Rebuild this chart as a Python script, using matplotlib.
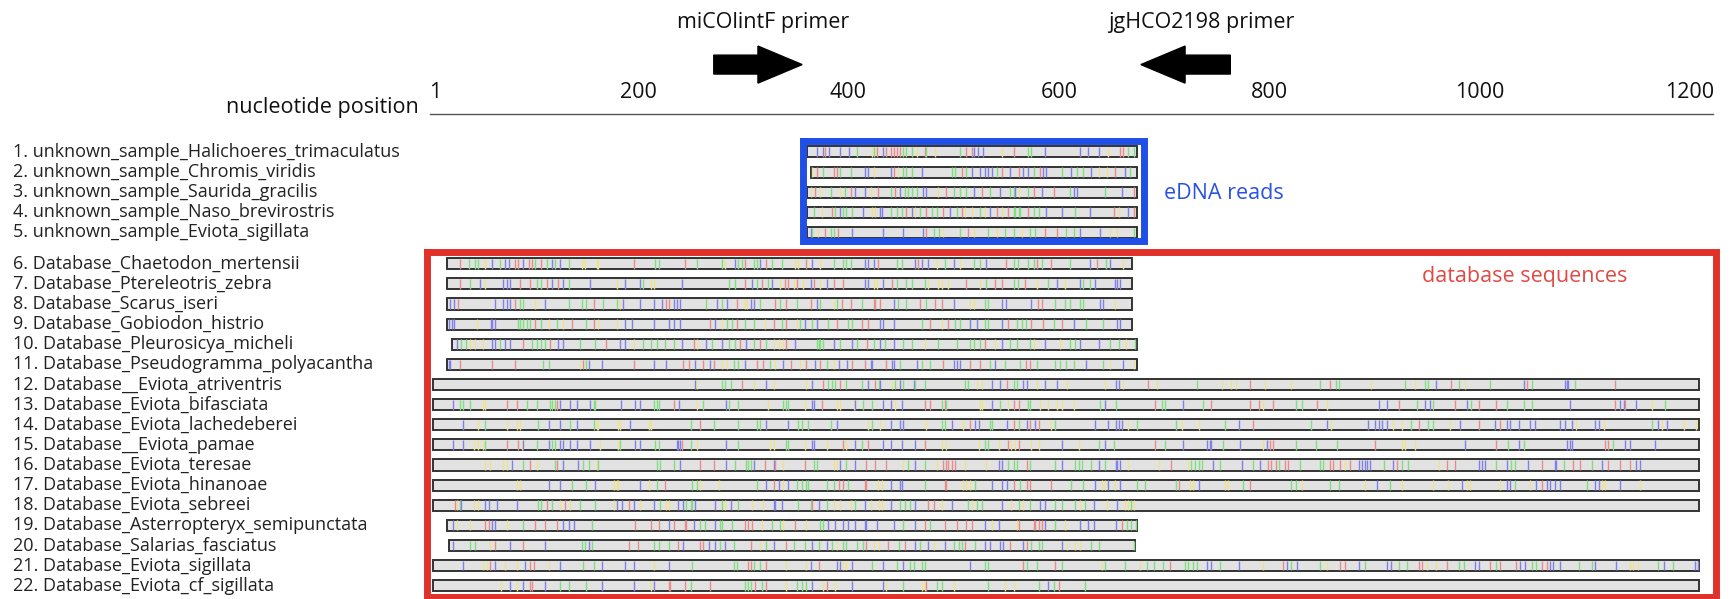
import matplotlib.pyplot as plt

plt.rcParams['font.family'] = ['Open Sans', 'DejaVu Sans']

# row labels
labels = [
    "1. unknown_sample_Halichoeres_trimaculatus",
    "2. unknown_sample_Chromis_viridis",
    "3. unknown_sample_Saurida_gracilis",
    "4. unknown_sample_Naso_brevirostris",
    "5. unknown_sample_Eviota_sigillata",
    "6. Database_Chaetodon_mertensii",
    "7. Database_Ptereleotris_zebra",
    "8. Database_Scarus_iseri",
    "9. Database_Gobiodon_histrio",
    "10. Database_Pleurosicya_micheli",
    "11. Database_Pseudogramma_polyacantha",
    "12. Database__Eviota_atriventris",
    "13. Database_Eviota_bifasciata",
    "14. Database_Eviota_lachedeberei",
    "15. Database__Eviota_pamae",
    "16. Database_Eviota_teresae",
    "17. Database_Eviota_hinanoae",
    "18. Database_Eviota_sebreei",
    "19. Database_Asterropteryx_semipunctata",
    "20. Database_Salarias_fasciatus",
    "21. Database_Eviota_sigillata",
    "22. Database_Eviota_cf_sigillata",
]

# start / end nucleotide of each sequence
seq_start = [361, 364, 361, 361, 361, 18, 18, 18, 18, 23, 18,
             5, 5, 5, 5, 5, 5, 5, 18, 20, 5, 5]
seq_end = [674, 674, 674, 674, 674, 670, 670, 670, 670, 674, 674,
           1209, 1209, 1209, 1209, 1209, 1209, 1209, 674, 672, 1209, 1209]

# variable sites: position + base (r=T, g=A, b=C, y=G)
sites = [
    "370b 376b 378r 382b 392b 401b 408g 422y 424g 427r 433b 436r 440r 443r 446r 449r 452g 455g 460g 465y 473r 474g 482y 506g 512r 517r 519b 523b 528b 546y 557r 571g 574g 587b 620b 628b 638b 647y 658r 661r 666g 671g",
    "365y 370r 376g 386r 389r 392g 402g 416b 419b 424y 440b 443r 447y 452g 455g 460g 470b 498g 501g 508r 512g 517b 525b 530b 533b 536b 541g 546r 554b 562r 566b 571b 576g 582r 585b 588b 603g 612b 617g 623g 631b 638y 646y 653r 663b 668g",
    "364y 368r 373y 383g 392y 397g 402r 406b 416b 421y 428r 440g 444r 449b 454g 457g 460g 465g 471b 474b 485y 493r 500g 506g 512g 519b 527r 535g 544b 554g 557g 558b 562y 571g 576r 584b 595r 611g 614b 617b 644g 660b 671r",
    "367g 375y 384r 387g 392b 395g 398g 403g 414b 422y 425y 430b 432b 440g 446g 451g 455r 460b 463y 468g 474r 479g 484g 490r 497b 503g 508r 511y 517y 525g 530y 535b 541r 546y 552r 557g 558g 562g 563g 571r 576g 581g 588b 603b 615g 630b 652r 657y 666b 671r",
    "364b 365g 371y 378r 383g 386g 390r 403b 433b 452b 471b 474r 481g 486g 490y 506g 514r 519y 533g 541y 549g 557g 565y 573g 577g 587r 598r 607g 614g 620b 639b 649y 655y 671g",
    "31r 39g 45g 48g 55y 61b 69g 74b 77b 83r 86r 91b 96r 99r 102g 108r 113g 118b 121g 126b 134g 147y 150y 161y 162y 196r 216g 220g 245r 256g 280g 283y 292b 295g 299g 302r 310g 313g 316b 322r 327g 337g 349y 352y 360r 365b 373y 386g 395g 398g 402g 416b 419b 424b "
    "428r 446g 451g 463b 466r 470b 476b 484y 492g 500b 506y 519g 525g 531b 550r 557g 561g 571g 576g 579r 584g 593r 611g 630b 636r 645g 649b 661y",
    "31r 40g 50b 55y 72b 75b 78b 88r 97r 104g 108g 113r 118b 124r 129b 134g 154b 180y 188b 202b 205g 212y 215y 242b 286g 292g 302r 308b 313g 318r 324g 327b 335y 340r 343r 348y 351r 357y 364b 367r 373y 380b 386r 395r 416b 419b "
    "424y 427y 433b 441r 446g 455g 460g 473g 476y 485y 489y 495y 512r 525y 531g 539r 546r 557g 561g 568r 579y 590g 598b 606y 620b 623g 630g 634b 653b 655b 658b",
    "21b 25b 29r 64b 72b 75b 78b 83r 88g 91g 102y 112b 134g 147g 151g 158r 167g 180g 183y 186b 202b 215b 223b 227r 229r 234b 237b 240b 265g 275b 280g 285b 294r 302y 304y 307b 310b 316g 330r 335g 341r 351g 364r 370b 373g 386y 389g 394r 402r 413g 424r "
    "425r 430r 443b 447g 455g 468r 474g 482r 489r 500b 516y 519y 530g 533g 546b 550b 574b 580r 584r 596g 606g 611g 620g 623g 639b 642b 653y",
    "20b 23b 25b 47y 60b 61b 64b 86g 88g 91g 94g 97g 102r 108g 115y 123g 129y 137r 151g 158r 162y 180y 188b 194b 215b 229b 234b 240b 268r 273b 280y 285g 289g 294r 302g 310g 321y 329r 337g 341r 351y 354g 359b 365g 370b 381g 389r 400g 403g 413r 419r "
    "430b 433b 443b 470g 478r 489y 495r 501g 506g 516b 522b 530g 533g 546b 552r 560g 565g 569g 574r 585r 595g 603r 614b 626g 642g 655b 658b",
    "28b 32g 36g 40y 45y 53y 61b 64b 69g 74b 78b 91r 99g 104g 108g 112g 116r 124b 129b 145g 159g 170r 183b 188b 196y 205g 212g 218g 226g 234g 242b 253r 256y 265b 270g 280b 286g 292g 297r 303b 310g 316r 322g 329y 334y 338y 341r 349b 370g 372g 373g 376g 386b 392g 403b 408g 418r "
    "424g 430b 435g 443b 452g 460g 473y 485g 503g 516g 519g 525g 530r 539y 546b 554g 560g 573g 576y 587b 601y 611g 615g 620b 638b 649g 657g 664y 672g",
    "20b 21b 31r 61r 83r 110g 115g 145y 148r 151g 153b 166b 196r 215b 227b 243r 248r 254b 262r 268b 272r 280y 285y 291g 295g 302b 313r 319r 325g 330y 338b 345r 354y 360r 368b 373r 380g 386y 391b 399b 403r 416r 421b "
    "422b 436r 441b 443b 449g 465b 470g 478g 490r 500b 503b 506b 516r 525r 535g 539b 549g 563g 569r 573r 579g 596g 601g 607g 614g 626b 642g 649y 661b 671y",
    "254b 256y 280g 283g 288g 299r 310y 322b 329y 360y 365b 376r 381g 384g 387g 392r 398g 413g 419b 425r 429g 430b 441y 444g 449b 452g 462b 463g 473g 511g 514g 522y 527y 536b 544b 551r 557g 560g 566b 570b 579y 587b 598b 608y 644y 654b 657b 661y 685r 693y 731g 755y 764y 768y 782r 796y "
    "821y 848g 858r 863g 866g 897y 929g 939y 948g 951g 959b 973r 980g 986y 1010g 1042b 1045r 1050g 1081b 1083b 1084b 1091g 1129r",
    "24b 31g 34g 40g 53y 55y 75r 85r 94g 104g 116g 118g 121g 123r 126b 135b 142b 154b 158g 159g 184b 197b 202b 215g 218g 220g 234r 239b 256y 262g 284b 286g 295g 324y 338g 341g 343g 359y 365b 367b 375r 389y 392y "
    "405y 406b 414g 422g 433b 440b 444y 451b 473r 478r 489g 492r 493g 525y 527y 536b 544g 552y 557r 562r 571g 573g 582y 590y 598y 603y 614y 639g 644b 654g 691r 698g 701g 718b 737g 745r 782r 790r 794y 804r "
    "825g 831g 845r 855y 904b 912b 923r 940g 948b 953b 956g 977r 988b 992g 999r 1016r 1026g 1042g 1050g 1086b 1129r 1133b 1137b 1138r 1149b 1164y 1176g",
    "34b 48y 55g 75y 85y 88y 105g 115b 126b 135g 142b 158g 161y 162y 181y 183y 192b 210y 212y 250g 259r 272g 295g 313g 316g 322b 343b 352g 356g 362g 383g 389b "
    "419y 422g 430y 440b 449b 452b 474y 489g 492g 498b 509y 516r 520b 524b 535g 536g 551b 557r 562g 570b 573r 577b 581r 593y 596g 634b 647b 654b 657b 660b 666y 674g 711g 717y 733y 758g 771b 785r "
    "840g 855b 859y 894b 901b 904b 907b 912b 918y 926y 935g 942r 951g 956g 972y 981b 999r 1015b 1019r 1026b 1029b 1037b 1048b 1053b 1076b 1081b 1088b 1092y 1110b 1113b 1118y 1164g 1170b 1173y 1178b 1194y 1206y",
    "24b 34b 44y 48y 53y 55g 75r 86r 90y 91b 104g 115b 118g 121g 126b 129b 135b 142b 154b 164y 181y 183g 197b 202b 216g 220g 237b 238b 240b 242r 250g 256y 284b 295g 325y 329y 341g 343g 359y 365b 367b 380y 395r "
    "398y 406b 413g 419r 433b 440b 451b 463b 473r 489y 493y 524y 530g 533g 543y 552r 555y 558y 562r 574y 581y 603b 619y 638g 644b 652g 691r 701g 718b 741b 744b 745b 756g 772b 794y 798b 801r 804r "
    "825g 844g 864g 901r 926y 929y 939y 986b 1016r 1027g 1037b 1042g 1083b 1086b 1088b 1119r 1122r 1127g 1138b 1143b 1167b",
    "55y 59y 72y 75y 80b 91g 97r 104y 121g 123r 129b 143b 148g 153g 161y 162g 218g 221g 234g 240b 259r 272r 284b 292g 303g 305g 307g 310b 321r 329b 330r 338y 359r 367g 370g 386y 389y 392b 398g "
    "406b 417r 425r 436r 452y 457g 463b 473g 484y 490r 493r 495r 498r 501r 511y 531y 543b 546b 552g 557g 560g 570r 573g 596g 603b 615g 619g 622g 631g 638b 644g 654b 655b 658b 666y 695y 707r 723y 726g 729g 733g 736g 747b 753g 774b 785g 791b 799r "
    "802r 806r 809g 815r 818r 829g 848g 851g 858r 861r 867r 872y 877r 885b 888b 891b 893b 896b 909g 918b 921r 926g 932g 961y 969r 977r 999b 1002b 1005b 1016g 1026b 1030g 1034g 1046b 1059r 1072b 1073b 1080g 1089r 1095r 1107g 1116b 1122r 1133r 1143r 1149b 1152b",
    "85y 88y 115b 126b 137g 151g 159b 177y 180y 181y 202b 210y 218g 226r 251g 256g 259y 277y 313g 322b 329r 334b 338y 343b 351g 356g 360g 362g 380g 386g 391r 395r "
    "400g 416r 417r 428y 432y 440b 449b 451b 473g 492r 493r 509y 512y 516y 520g 536b 546b 551b 557r 563g 570r 573r 593r 612g 623g 634b 641y 644y 647b 653y 658b 674g 682g 711g 714r 725y 728y 733b 758y 761y 775g 782r "
    "821g 825g 831y 858g 866g 891y 902b 915g 926y 956y 970y 983b 988y 991y 1019y 1026b 1029b 1034g 1048y 1054b 1059r 1064b 1067b 1072b 1076b 1102g 1110b 1113b 1116y 1119y 1133b 1152y",
    "26r 28y 31g 32b 44y 48y 55b 58b 66b 85b 105g 108g 113r 118g 126y 131r 135y 145g 159g 177y 180b 185b 191r 196b 202y 215b 221g 227y 229y 238b 243b 246g 250g 251g 254b 273b 280g 283y 288b 295g 308y 319y 329b 330b 337b 352g 364g 365r 372b 380g 386y 392y "
    "402y 406g 416b 421y 429y 432y 440b 449g 454g 459g 463b 476r 481r 489y 498b 514g 517y 522g 527g 546b 555y 562g 566y 573g 582b 587b 596g 603g 615g 620y 625g 633b 646y 655b 663y 666y 669g 671y",
    "24b 28y 40y 55r 58r 61b 64b 75y 91g 102r 112r 123r 129b 134b 139b 156g 197r 212r 220r 229b 234r 245r 246r 253b 259g 264g 273b 278g 280g 289g 302r 305r 308r 318y 327g 335g 338y 349r 360y 373g 376g 381b 387b 395b "
    "400b 406b 416b 417b 427b 443b 452g 463b 473r 478g 492r 503r 512r 517r 530b 536y 543b 560y 562r 576r 577r 581r 584r 587b 596g 606y 620b 628b 633b 654b 660r 665g 669g 673g",
    "24b 40g 45g 59y 64r 78b 91r 112b 147g 150g 153b 156g 191r 200r 215g 220g 229g 238r 243b 259r 262r 267b 273b 278g 283b 291g 307r 316y 322g 329b 341r 348g 359g 365b 372g 380b 384g 389y 395g "
    "398g 408g 414g 417r 424y 429y 438r 448g 454r 463b 468g 476b 481y 492b 500g 505g 508g 511r 520g 530b 535b 544b 547b 554r 566b 570r 574g 581g 584g 603b 608y 615y 620y 631g 638g 671g",
    "34b 53y 56y 59r 64b 74y 85y 93b 97r 101r 115y 126b 148g 158g 166b 188b 196b 215y 229b 251g 291g 294g 305r 307r 310g 316g 322r 341y 360y 364b 372r 389b 392b 395y "
    "398y 403b 422g 433b 446g 452b 459g 462g 470g 473g 516b 530g 533g 566r 570g 579g 596r 603g 641y 644g 663g 677y 684g 690g 699g 706r 720g 723g 728g 731g 741b 745b 753g 771b 794y "
    "813r 817b 821g 826b 848g 855y 867r 872r 885b 891g 912b 916b 923g 931g 942r 945r 950y 959y 969r 980g 985g 996b 999b 1010r 1016g 1019r 1035r 1038b 1043b 1050g 1054g 1059r 1064r 1067b 1070b 1076b 1094g 1107g 1110b 1130b 1143y 1146y 1151y 1170g 1175b 1184g 1205b 1208b",
    "70y 78b 85y 91b 97r 99r 112b 126g 134g 151g 166b 196b 212y 215b 229r 230r 245r 250g 268r 302g 305g 307g 311r 318g 322r 341y 351g 356g 360g 365b 376y 380r 387y "
    "403b 433b 436y 452g 470y 473y 474r 484g 489g 500y 533g 549y 557y 581g 590b 595g 600r 625g",
]

base_colors = {'r': '#ec8a8a', 'g': '#7fe07f', 'b': '#8080ea', 'y': '#efe28a'}

ticks = [1, 200, 400, 600, 800, 1000, 1200]

# vertical position of every row (gap between reads and database)
row_y = [i + 1 for i in range(5)] + [i + 1 + 0.56 for i in range(5, 22)]
h = 0.55

fig = plt.figure(figsize=(17.3, 5.99), dpi=100)
ax = fig.add_axes([0, 0, 1, 1])
ax.set_xlim(-406.5, 1238)
ax.set_ylim(23.22, -6.55)
ax.axis('off')

for i in range(len(labels)):
    y = row_y[i]
    ax.barh(y, seq_end[i] - seq_start[i], left=seq_start[i], height=h,
            color='#e2e2e2', edgecolor='#333333', linewidth=1.4, zorder=2)
    pos = [int(t[:-1]) for t in sites[i].split()]
    cols = [base_colors[t[-1]] for t in sites[i].split()]
    ax.vlines(pos, y - h * 0.44, y + h * 0.44, colors=cols, linewidth=1.0, zorder=3)
    ax.text(-394, y, labels[i], ha='left', va='center', fontsize=13, color='#222222')

# position scale
ax.plot([2, 1222], [-0.9, -0.9], color='#555555', linewidth=1.0)
for t in ticks:
    if t == 1:
        ax.text(t, -1.45, str(t), ha='left', va='bottom', fontsize=15.5, color='#111111')
    else:
        ax.text(t, -1.45, str(t), ha='center', va='bottom', fontsize=15.5, color='#111111')
ax.text(-8, -1.22, "nucleotide position", ha='right', va='center', fontsize=15.5, color='#111111')

# primers
ax.text(319, -5.45, "miCOlintF primer", ha='center', va='center', fontsize=15.5, color='#111111')
ax.text(735, -5.45, "jgHCO2198 primer", ha='center', va='center', fontsize=15.5, color='#111111')
ax.arrow(272, -3.34, 84, 0, width=0.94, head_width=1.84, head_length=42,
         length_includes_head=True, color='black')
ax.arrow(763, -3.34, -85, 0, width=0.94, head_width=1.84, head_length=42,
         length_includes_head=True, color='black')

# group boxes
ax.plot([356.4, 680.5, 680.5, 356.4, 356.4], [0.44, 0.44, 5.42, 5.42, 0.44],
        color='#1f4fe6', linewidth=5, solid_joinstyle='miter', zorder=4)
ax.text(700, 3.05, "eDNA reads", ha='left', va='center', fontsize=15.5, color='#2a52e0')
ax.plot([-1, 1225, 1225, -1, -1], [5.97, 5.97, 23.1, 23.1, 5.97],
        color='#e0322a', linewidth=5, solid_joinstyle='miter', zorder=4)
ax.text(1043, 7.18, "database sequences", ha='center', va='center', fontsize=15.5, color='#e04a45')

fig.savefig('out.png', dpi=100)
